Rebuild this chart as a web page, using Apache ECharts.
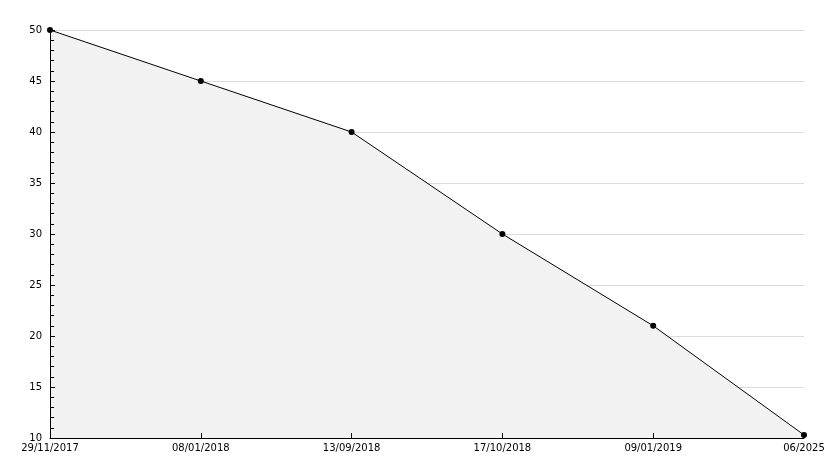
<!DOCTYPE html>
<html><head><meta charset="utf-8">
<script src="https://cdn.jsdelivr.net/npm/echarts@6/dist/echarts.min.js"></script>
<style>html,body{margin:0;padding:0;background:#fff}#c{width:834px;height:468px}</style>
</head><body><div id="c"></div>
<script>
const categories = ['29/11/2017','08/01/2018','13/09/2018','17/10/2018','09/01/2019','06/2025'];
const values = [50, 45, 40, 30, 21, 10.3];
const yTicks = {min: 10, max: 50, interval: 5};

const chart = echarts.init(document.getElementById('c'), null, {renderer: 'canvas'});
chart.setOption({
  animation: false,
  backgroundColor: '#fff',
  grid: {left: 50, right: 30, top: 30, bottom: 30, containLabel: false},
  xAxis: {
    type: 'category', data: categories, boundaryGap: false, z: 10,
    axisLine: {lineStyle: {color: '#000', width: 1}},
    axisTick: {inside: true, length: 5, lineStyle: {color: '#000'}, alignWithLabel: true},
    axisLabel: {color: '#000', fontFamily: 'DejaVu Sans', fontSize: 10, margin: 5, interval: 0},
    splitLine: {show: false}
  },
  yAxis: [{
    type: 'value', min: yTicks.min, max: yTicks.max, interval: yTicks.interval, z: 0,
    position: 'left',
    axisLine: {show: false},
    axisTick: {show: false},
    axisLabel: {color: '#000', fontFamily: 'DejaVu Sans', fontSize: 10, margin: 8},
    splitLine: {show: true, lineStyle: {color: '#dcdcdc', width: 1}}
  }, {
    type: 'value', min: yTicks.min, max: yTicks.max, interval: yTicks.interval, z: 10,
    position: 'left', offset: 0,
    axisLine: {show: true, onZero: false, lineStyle: {color: '#000', width: 1}},
    axisTick: {show: true, inside: true, length: 5, lineStyle: {color: '#000'}},
    minorTick: {show: true, splitNumber: 5, length: 4, lineStyle: {color: '#000'}},
    axisLabel: {show: false},
    splitLine: {show: false}
  }],
  series: [{
    type: 'line', data: values, z: 5, yAxisIndex: 0,
    symbol: 'circle', symbolSize: 6,
    itemStyle: {color: '#000'},
    lineStyle: {color: '#000', width: 1},
    areaStyle: {color: '#f2f2f2', opacity: 1, origin: 'start'}
  }]
});
</script></body></html>
